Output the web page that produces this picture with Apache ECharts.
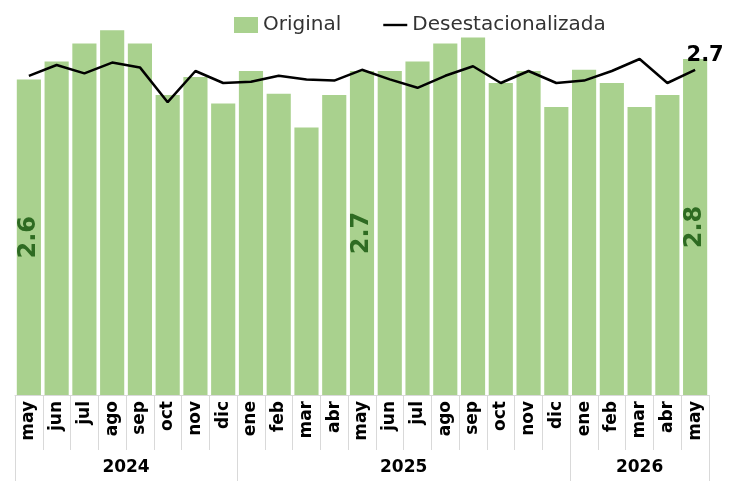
<!DOCTYPE html>
<html><head><meta charset="utf-8">
<script src="https://cdn.jsdelivr.net/npm/echarts@6/dist/echarts.min.js"></script>
<style>html,body{margin:0;padding:0;background:#fff}#c{width:731px;height:481px}</style>
</head><body><div id="c"></div>
<script>
const months = ['may','jun','jul','ago','sep','oct','nov','dic','ene','feb','mar','abr','may','jun','jul','ago','sep','oct','nov','dic','ene','feb','mar','abr','may'];
const years = ['2024','2025','2026'];
const yearStarts = [0, 8, 20, 25];
const original = [2.63,2.78,2.93,3.04,2.93,2.50,2.65,2.43,2.70,2.51,2.23,2.50,2.70,2.70,2.78,2.93,2.98,2.60,2.70,2.40,2.71,2.60,2.40,2.50,2.80];
const desest = [2.66,2.75,2.68,2.77,2.73,2.44,2.70,2.60,2.61,2.66,2.63,2.62,2.71,2.63,2.56,2.66,2.74,2.60,2.70,2.60,2.62,2.70,2.80,2.60,2.71];
const labeledBars = [0, 12, 24];

const font = '"DejaVu Sans", sans-serif';
const barData = original.map((v, i) => labeledBars.includes(i) ? {
  value: v,
  label: {show: true, position: 'inside', rotate: 90, fontSize: 24, fontWeight: 'bold', color: '#2e6b22', fontFamily: font,
    formatter: p => p.value.toFixed(1)}
} : v);
const lineData = desest.map((v, i) => i === desest.length - 1 ? {
  value: v,
  label: {show: true, position: 'top', distance: 4, offset: [10, 0], fontSize: 21, fontWeight: 'bold', color: '#000', fontFamily: font,
    formatter: p => p.value.toFixed(1)}
} : v);
const yearCenters = years.map((y, i) => (yearStarts[i] + yearStarts[i + 1]) / 2);

const chart = echarts.init(document.getElementById('c'));
chart.setOption({
  animation: false,
  textStyle: {fontFamily: font},
  legend: {
    top: 10, left: 229, itemGap: 42, itemWidth: 24, itemHeight: 16, itemTextGap: 4, symbolKeepAspect: true,
    textStyle: {fontSize: 20, color: '#333', fontFamily: font},
    data: [
      {name: 'Original', icon: 'rect'},
      {name: 'Desestacionalizada', icon: 'path://M0,0 L30,0 L30,3 L0,3 Z', itemStyle: {color: '#000'}}
    ]
  },
  grid: {left: 15, right: 22, top: 11, bottom: 86, containLabel: false},
  xAxis: [{
    type: 'category', data: months, boundaryGap: true, position: 'bottom',
    axisLine: {show: true, lineStyle: {color: '#d9d9d9'}},
    axisTick: {show: true, interval: 0, length: 55, lineStyle: {color: '#d9d9d9'}},
    axisLabel: {interval: 0, rotate: 90, margin: 6, fontSize: 17, fontWeight: 'bold', color: '#000', fontFamily: font}
  }, {
    type: 'value', min: 0, max: months.length, position: 'bottom', offset: 0,
    axisLine: {show: false},
    splitLine: {show: false},
    axisTick: {show: true, customValues: yearStarts, length: 86, lineStyle: {color: '#d9d9d9'}},
    axisLabel: {show: true, customValues: yearCenters, margin: 64, fontSize: 17, fontWeight: 'bold', color: '#000', fontFamily: font,
      formatter: v => years[yearCenters.indexOf(v)] || ''}
  }],
  yAxis: {type: 'value', min: 0, max: 3.2, show: false, splitLine: {show: false}},
  series: [{
    name: 'Original', type: 'bar', xAxisIndex: 0, data: barData, barCategoryGap: '13%',
    itemStyle: {color: '#a9d18e'}
  }, {
    name: 'Desestacionalizada', type: 'line', xAxisIndex: 0, data: lineData, showSymbol: true, symbol: 'circle', symbolSize: 0.01,
    lineStyle: {color: '#000', width: 2.5}, itemStyle: {color: '#000'}, z: 5
  }]
});
</script></body></html>
